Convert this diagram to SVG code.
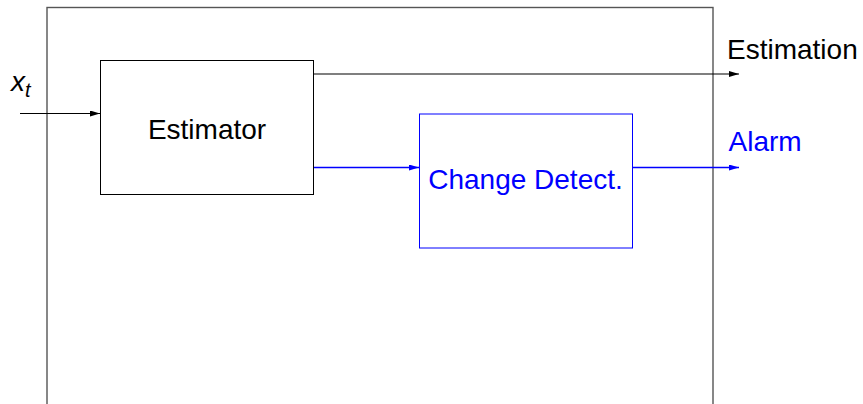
<svg xmlns="http://www.w3.org/2000/svg" width="863" height="404" viewBox="0 0 863 404">
  <defs>
    <marker id="arrK" viewBox="0 0 10 6" refX="10" refY="3" markerWidth="10" markerHeight="6" markerUnits="userSpaceOnUse" orient="auto">
      <path d="M0,0 L10,3 L0,6 Z" fill="#000"/>
    </marker>
    <marker id="arrB" viewBox="0 0 10 6" refX="10" refY="3" markerWidth="10" markerHeight="6" markerUnits="userSpaceOnUse" orient="auto">
      <path d="M0,0 L10,3 L0,6 Z" fill="#0000ff"/>
    </marker>
  </defs>
  <style>
    text { font-family: "Liberation Sans", Arial, sans-serif; font-size: 28px; }
    .blk { fill: #fff; stroke: #000; stroke-width: 1; }
    .blu { fill: #fff; stroke: #0000ff; stroke-width: 1; }
    .lk { stroke: #000; stroke-width: 1.2; fill: none; }
    .lb { stroke: #0000ff; stroke-width: 1.5; fill: none; }
    .tk { fill: #000; }
    .tb { fill: #0000ff; }
  </style>
  <rect width="863" height="404" fill="#fff"/>

  <!-- system boundary -->
  <g id="system">
    <rect x="47" y="7.5" width="666" height="420" fill="none" stroke="#555" stroke-width="1.4"/>
  </g>

  <!-- connectors -->
  <g id="connectors">
    <line class="lk" x1="20" y1="113.5" x2="100" y2="113.5" marker-end="url(#arrK)"/>
    <line class="lk" x1="314" y1="74" x2="739" y2="74" marker-end="url(#arrK)"/>
    <line class="lb" x1="314" y1="167.5" x2="419" y2="167.5" marker-end="url(#arrB)"/>
    <line class="lb" x1="633" y1="167.5" x2="739" y2="167.5" marker-end="url(#arrB)"/>
  </g>

  <g id="estimator">
    <rect class="blk" x="100.5" y="60.5" width="213" height="134"/>
    <text class="tk" x="207" y="138.5" text-anchor="middle">Estimator</text>
  </g>

  <g id="change-detect">
    <rect class="blu" x="419.5" y="114" width="213" height="134"/>
    <text class="tb" x="525.5" y="189" text-anchor="middle">Change Detect.</text>
  </g>

  <g id="input-label">
    <text class="tk" x="11" y="91" font-size="27" font-style="italic">x<tspan font-size="20" dy="6">t</tspan></text>
  </g>

  <g id="estimation-label">
    <text class="tk" x="727" y="58.5">Estimation</text>
  </g>

  <g id="alarm-label">
    <text class="tb" x="728.5" y="151">Alarm</text>
  </g>
</svg>
